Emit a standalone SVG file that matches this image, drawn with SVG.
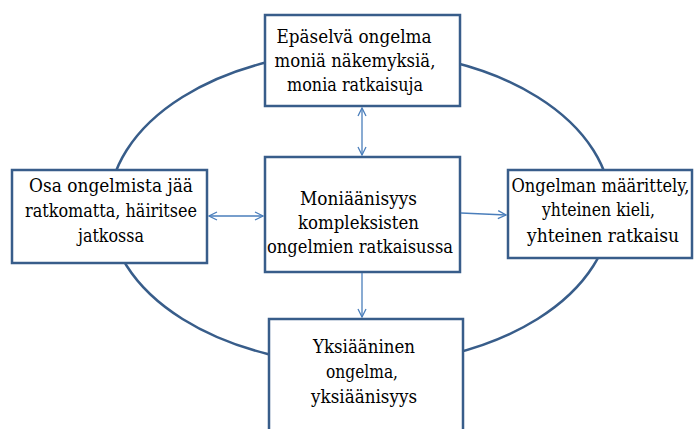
<svg xmlns="http://www.w3.org/2000/svg" width="694" height="429" viewBox="0 0 694 429">
<style>
.box{fill:#fff;stroke:#385D8A;stroke-width:2.5}
.ring{fill:none;stroke:#385D8A;stroke-width:2.5}
.con{fill:none;stroke:#4A7EBB;stroke-width:1.3}
text{font-family:"DejaVu Serif","Liberation Serif",serif;font-size:19px;fill:#000;text-anchor:middle}
.r{text-anchor:end}
</style>
<defs>
<marker id="ah" viewBox="0 0 10 10" refX="9" refY="5" markerWidth="10" markerHeight="10" markerUnits="userSpaceOnUse" orient="auto-start-reverse">
<path d="M1,1 L9,5 L1,9" fill="none" stroke="#4A7EBB" stroke-width="1.3"/>
</marker>
</defs>
<ellipse class="ring" cx="360" cy="208" rx="251" ry="157"/>
<g id="top">
<rect class="box" x="265" y="15" width="195" height="91"/>
<text x="354" y="43" textLength="155" lengthAdjust="spacingAndGlyphs">Epäselvä ongelma</text>
<text x="355" y="67" textLength="161" lengthAdjust="spacingAndGlyphs">moniä näkemyksiä,</text>
<text x="355" y="91" textLength="136" lengthAdjust="spacingAndGlyphs">monia ratkaisuja</text>
</g>
<g id="left">
<rect class="box" x="12" y="170" width="195" height="93"/>
<text x="111" y="192" textLength="164" lengthAdjust="spacingAndGlyphs">Osa ongelmista jää</text>
<text x="111" y="217" textLength="172" lengthAdjust="spacingAndGlyphs">ratkomatta, häiritsee</text>
<text x="111" y="242" textLength="66" lengthAdjust="spacingAndGlyphs">jatkossa</text>
</g>
<g id="center">
<rect class="box" x="265" y="157" width="195" height="115"/>
<text x="358.5" y="205" textLength="117" lengthAdjust="spacingAndGlyphs">Moniäänisyys</text>
<text x="358.5" y="229" textLength="121" lengthAdjust="spacingAndGlyphs">kompleksisten</text>
<text x="360" y="253" textLength="186" lengthAdjust="spacingAndGlyphs">ongelmien ratkaisussa</text>
</g>
<g id="right">
<rect class="box" x="508" y="170" width="184" height="88"/>
<text class="r" x="689.5" y="192" textLength="178" lengthAdjust="spacingAndGlyphs">Ongelman määrittely,</text>
<text class="r" x="655" y="216" textLength="113" lengthAdjust="spacingAndGlyphs">yhteinen kieli,</text>
<text class="r" x="679" y="242" textLength="152" lengthAdjust="spacingAndGlyphs">yhteinen ratkaisu</text>
</g>
<g id="bottom">
<rect class="box" x="269" y="319" width="194" height="130"/>
<text x="364" y="353" textLength="102" lengthAdjust="spacingAndGlyphs">Yksiääninen</text>
<text x="362" y="378" textLength="72" lengthAdjust="spacingAndGlyphs">ongelma,</text>
<text x="364" y="403" textLength="106" lengthAdjust="spacingAndGlyphs">yksiäänisyys</text>
</g>
<g id="connectors">
<line class="con" x1="362" y1="108" x2="362" y2="155" marker-start="url(#ah)" marker-end="url(#ah)"/>
<line class="con" x1="209" y1="216" x2="263" y2="216" marker-start="url(#ah)" marker-end="url(#ah)"/>
<line class="con" x1="461" y1="213" x2="506" y2="215" marker-end="url(#ah)"/>
<line class="con" x1="362" y1="273" x2="362" y2="317" marker-end="url(#ah)"/>
</g>
</svg>
